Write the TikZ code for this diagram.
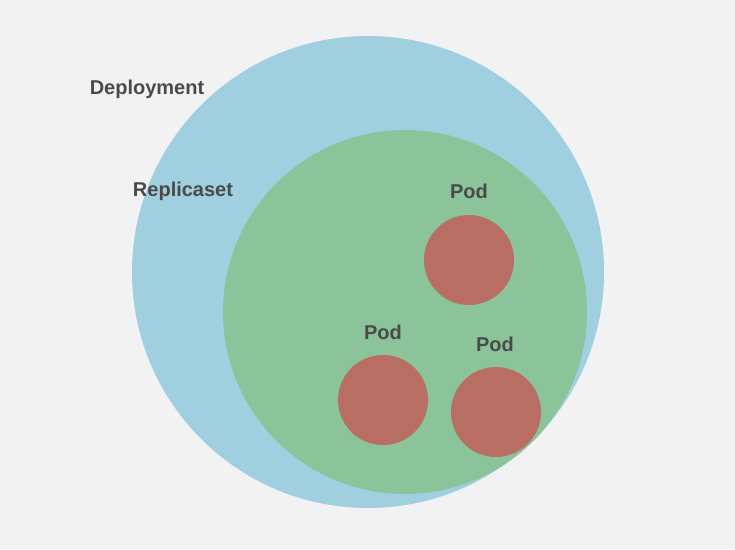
\documentclass[tikz,border=0pt]{standalone}
\usepackage{fontspec}
\setmainfont{Liberation Sans}
\definecolor{bgc}{HTML}{F2F2F2}
\definecolor{bluec}{HTML}{A0CFE0}
\definecolor{greenc}{HTML}{8BC49A}
\definecolor{redc}{HTML}{B86E63}
\definecolor{txtc}{HTML}{4A4A4A}
\begin{document}
\begin{tikzpicture}[x=1pt,y=-1pt,
  lbl/.style={text=txtc,font=\bfseries\fontsize{20}{24}\selectfont,inner sep=0pt},
  ring/.style={circle,inner sep=0pt,draw=none}]
\fill[bgc] (0,0) rectangle (735,549);
\useasboundingbox (0,0) rectangle (735,549);
\node[ring,fill=bluec,minimum size=472pt] (dep) at (368,272) {};
\node[ring,fill=greenc,minimum size=364pt] (rs) at (405,312) {};
\node[ring,fill=redc,minimum size=90pt] (p1) at (469,260) {};
\node[ring,fill=redc,minimum size=90pt] (p2) at (383,400) {};
\node[ring,fill=redc,minimum size=90pt] (p3) at (496,412) {};
\node[lbl] (tdep) at (147,89) {Deployment};
\node[lbl] (trs) at (183,191) {Replicaset};
\node[lbl] (t1) at (469,191) {Pod};
\node[lbl] (t2) at (383,332) {Pod};
\node[lbl] (t3) at (495,344) {Pod};
\end{tikzpicture}
\end{document}
